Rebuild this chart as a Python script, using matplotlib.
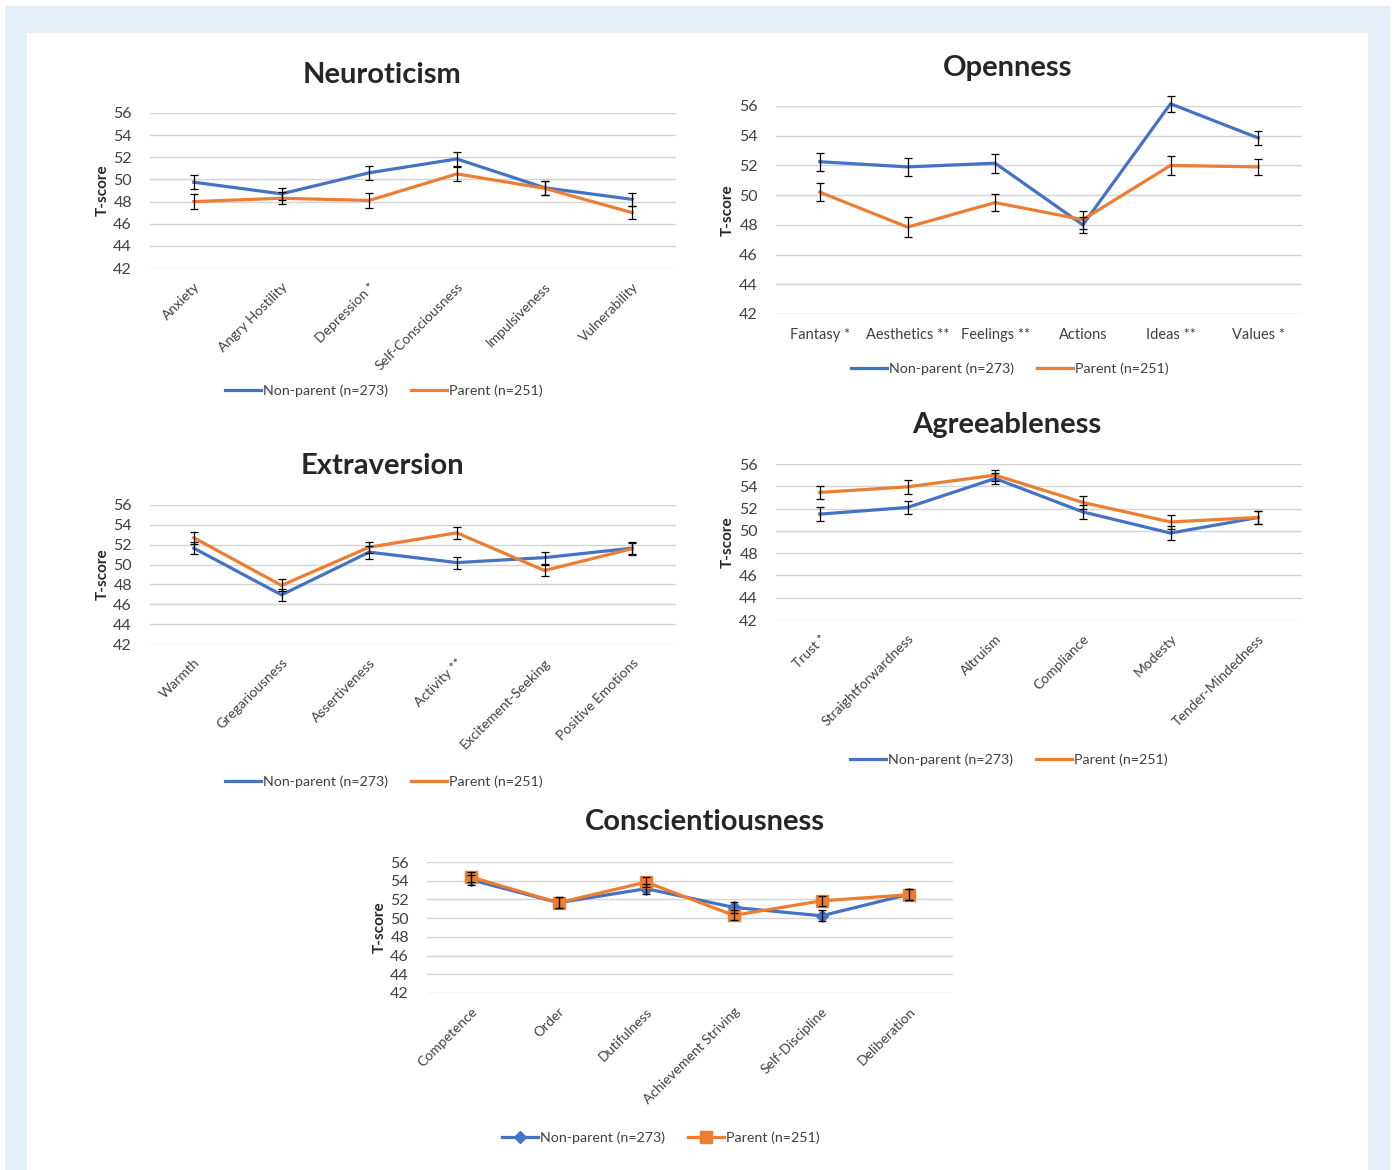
import matplotlib
matplotlib.use("Agg")
import matplotlib.pyplot as plt
from matplotlib.patches import Rectangle

W, H = 1393, 1170
FONT = ["Lato", "DejaVu Sans"]
plt.rcParams['font.family'] = FONT

BLUE = "#4472C4"
ORANGE = "#ED7D31"
GRID = "#d4d4d4"
TXT = "#404040"

series_names = ["Non-parent (n=273)", "Parent (n=251)"]
yticks = [42, 44, 46, 48, 50, 52, 54, 56]

neu_cats = ["Anxiety", "Angry Hostility", "Depression *", "Self-Consciousness", "Impulsiveness", "Vulnerability"]
neu_np = [49.75, 48.7, 50.6, 51.85, 49.25, 48.2]
neu_p = [48.0, 48.3, 48.1, 50.5, 49.2, 47.0]
neu_np_err = [0.65, 0.55, 0.65, 0.65, 0.65, 0.6]
neu_p_err = [0.7, 0.55, 0.65, 0.65, 0.65, 0.6]

ope_cats = ["Fantasy *", "Aesthetics **", "Feelings **", "Actions", "Ideas **", "Values *"]
ope_np = [52.25, 51.9, 52.15, 48.0, 56.15, 53.85]
ope_p = [50.2, 47.85, 49.5, 48.35, 52.0, 51.9]
ope_np_err = [0.62, 0.62, 0.65, 0.55, 0.55, 0.5]
ope_p_err = [0.6, 0.65, 0.6, 0.6, 0.62, 0.55]

ext_cats = ["Warmth", "Gregariousness", "Assertiveness", "Activity **", "Excitement-Seeking", "Positive Emotions"]
ext_np = [51.65, 46.95, 51.25, 50.2, 50.7, 51.65]
ext_p = [52.7, 47.9, 51.75, 53.2, 49.4, 51.6]
ext_np_err = [0.6, 0.6, 0.65, 0.6, 0.6, 0.6]
ext_p_err = [0.6, 0.6, 0.55, 0.6, 0.6, 0.6]

agr_cats = ["Trust *", "Straightforwardness", "Altruism", "Compliance", "Modesty", "Tender-Mindedness"]
agr_np = [51.5, 52.1, 54.7, 51.7, 49.8, 51.2]
agr_p = [53.45, 53.95, 55.0, 52.55, 50.8, 51.2]
agr_np_err = [0.6, 0.6, 0.5, 0.6, 0.65, 0.6]
agr_p_err = [0.6, 0.6, 0.5, 0.6, 0.6, 0.6]

con_cats = ["Competence", "Order", "Dutifulness", "Achievement Striving", "Self-Discipline", "Deliberation"]
con_np = [54.1, 51.65, 53.15, 51.15, 50.25, 52.55]
con_p = [54.4, 51.65, 53.85, 50.3, 51.85, 52.5]
con_np_err = [0.55, 0.6, 0.55, 0.55, 0.6, 0.6]
con_p_err = [0.5, 0.6, 0.55, 0.55, 0.55, 0.6]

fig = plt.figure(figsize=(W / 100, H / 100), dpi=100)
fig.patch.set_facecolor("white")


def px_rect(x0, y0, x1, y1, color):
    fig.patches.append(Rectangle((x0 / W, 1 - y1 / H), (x1 - x0) / W, (y1 - y0) / H,
                                 transform=fig.transFigure, facecolor=color,
                                 edgecolor="none", zorder=-10))


px_rect(5, 6, 1390, 1170, "#e6eef8")
px_rect(27, 33, 1368, 1170, "white")


def panel(x0, y0, x1, y1, cats, np_vals, p_vals, np_err, p_err, title, title_xy,
          ylab_x, legend_xy, rotate=True, markers=False):
    ax = fig.add_axes([x0 / W, 1 - y1 / H, (x1 - x0) / W, (y1 - y0) / H])
    xs = list(range(len(cats)))
    ax.set_xlim(-0.5, len(cats) - 0.5)
    ax.set_ylim(42, 56)
    ax.set_yticks(yticks)
    for t in yticks:
        ax.axhline(t, color=GRID, lw=1.0, zorder=0)
    for s in ax.spines.values():
        s.set_visible(False)
    ax.tick_params(axis="y", length=0, labelsize=11.5, labelcolor=TXT, pad=13)
    ax.tick_params(axis="x", length=0, labelcolor=TXT)
    ax.set_xticks(xs)
    if rotate:
        ax.set_xticklabels(cats, rotation=45, ha="right", rotation_mode="anchor", fontsize=10)
        ax.tick_params(axis="x", pad=9)
    else:
        ax.set_xticklabels(cats, fontsize=10.5)
        ax.tick_params(axis="x", pad=10)
    mk1 = dict(marker="D", markersize=6) if markers else {}
    mk2 = dict(marker="s", markersize=8) if markers else {}
    l1, = ax.plot(xs, np_vals, color=BLUE, lw=2.3, zorder=3, clip_on=False, label=series_names[0], **mk1)
    l2, = ax.plot(xs, p_vals, color=ORANGE, lw=2.3, zorder=4, clip_on=False, label=series_names[1], **mk2)
    ax.errorbar(xs, np_vals, yerr=np_err, fmt="none", ecolor="black", elinewidth=0.9,
                capsize=3, capthick=0.9, zorder=5, clip_on=False)
    ax.errorbar(xs, p_vals, yerr=p_err, fmt="none", ecolor="black", elinewidth=0.9,
                capsize=3, capthick=0.9, zorder=5, clip_on=False)
    fig.text(title_xy[0] / W, 1 - title_xy[1] / H, title, ha="center", va="center",
             fontsize=21, fontweight="bold", color="#262626")
    fig.text(ylab_x / W, 1 - ((y0 + y1) / 2) / H, "T-score", rotation=90, ha="center",
             va="center", fontsize=11, fontweight="bold", color="#262626")
    fig.legend(handles=[l1, l2], loc="center", ncol=2, frameon=False,
               bbox_to_anchor=(legend_xy[0] / W, 1 - legend_xy[1] / H),
               bbox_transform=fig.transFigure, fontsize=10.3, handlelength=2.5,
               columnspacing=1.6, handletextpad=0.15, labelcolor=TXT)
    return ax


panel(150, 113, 676, 268, neu_cats, neu_np, neu_p, neu_np_err, neu_p_err,
      "Neuroticism", (382, 75), 103, (384, 391))
panel(776, 106, 1302, 314, ope_cats, ope_np, ope_p, ope_np_err, ope_p_err,
      "Openness", (1008, 68), 728, (1010, 369), rotate=False)
panel(150, 505, 676, 644, ext_cats, ext_np, ext_p, ext_np_err, ext_p_err,
      "Extraversion", (382, 466), 103, (384, 782))
panel(776, 464, 1302, 620, agr_cats, agr_np, agr_p, agr_np_err, agr_p_err,
      "Agreeableness", (1007, 425), 728, (1009, 760))
panel(427, 862, 953, 993, con_cats, con_np, con_p, con_np_err, con_p_err,
      "Conscientiousness", (705, 822), 380, (661, 1138), markers=True)

fig.savefig("out.png", dpi=100, facecolor=fig.get_facecolor())
